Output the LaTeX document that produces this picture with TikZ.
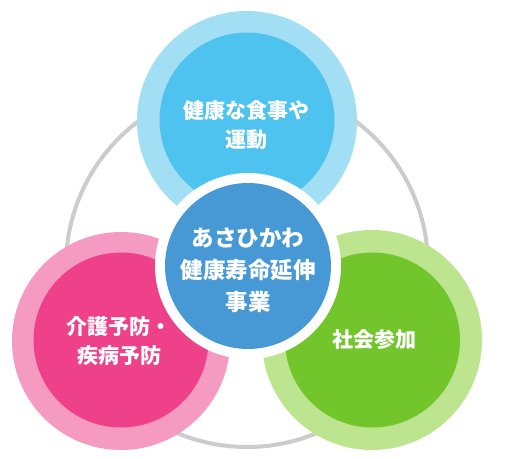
\documentclass[tikz,border=0pt]{standalone}
\usepackage{fontspec}
\newfontfamily\jp{Noto Sans CJK JP}
\definecolor{ringgray}{HTML}{CCCCCC}
\definecolor{skyout}{HTML}{A2DFF5}
\definecolor{skyin}{HTML}{4EC3F0}
\definecolor{coreblue}{HTML}{4799D6}
\definecolor{pinkout}{HTML}{F59AC0}
\definecolor{pinkin}{HTML}{EF4189}
\definecolor{greenout}{HTML}{BDE58F}
\definecolor{greenin}{HTML}{73C52C}
\tikzset{
  disc/.style={circle, inner sep=0pt, draw=none},
  label text/.style={text=white, align=center, font=\jp\bfseries\fontsize{21}{29}\selectfont},
  core text/.style={text=white, align=center, font=\jp\bfseries\fontsize{22.5}{32}\selectfont}
}
\begin{document}
\begin{tikzpicture}[x=1pt,y=-1pt]
\useasboundingbox (0,0) rectangle (514,458);
\fill[white] (0,0) rectangle (514,458);
% big gray ring
\node[circle, inner sep=0pt, draw=ringgray, line width=4pt, minimum size=362pt] (ring) at (247,266) {};
% top circle
\node[disc, fill=skyout, minimum size=220pt] (topout) at (247,121) {};
\node[disc, fill=skyin, minimum size=175pt] (topin) at (247,120) {};
% pink circle
\node[disc, fill=pinkout, minimum size=218pt] (leftout) at (121,341) {};
\node[disc, fill=pinkin, minimum size=175pt] (leftin) at (121,340) {};
% green circle
\node[disc, fill=greenout, minimum size=220pt] (rightout) at (372,340) {};
\node[disc, fill=greenin, minimum size=175pt] (rightin) at (372.5,340) {};
% centre circle
\node[disc, fill=white, minimum size=186pt] (coreedge) at (248,266) {};
\node[disc, fill=coreblue, minimum size=166pt] (core) at (248,266) {};
% texts
\node[label text] (toptext) at (246,125) {健康な食事や\\運動};
\node[label text] (lefttext) at (119,341) {介護予防・\\疾病予防};
\node[label text] (righttext) at (374.5,340) {社会参加};
\node[core text] (coretext) at (248,270) {あさひかわ\\健康寿命延伸\\事業};
\end{tikzpicture}
\end{document}
